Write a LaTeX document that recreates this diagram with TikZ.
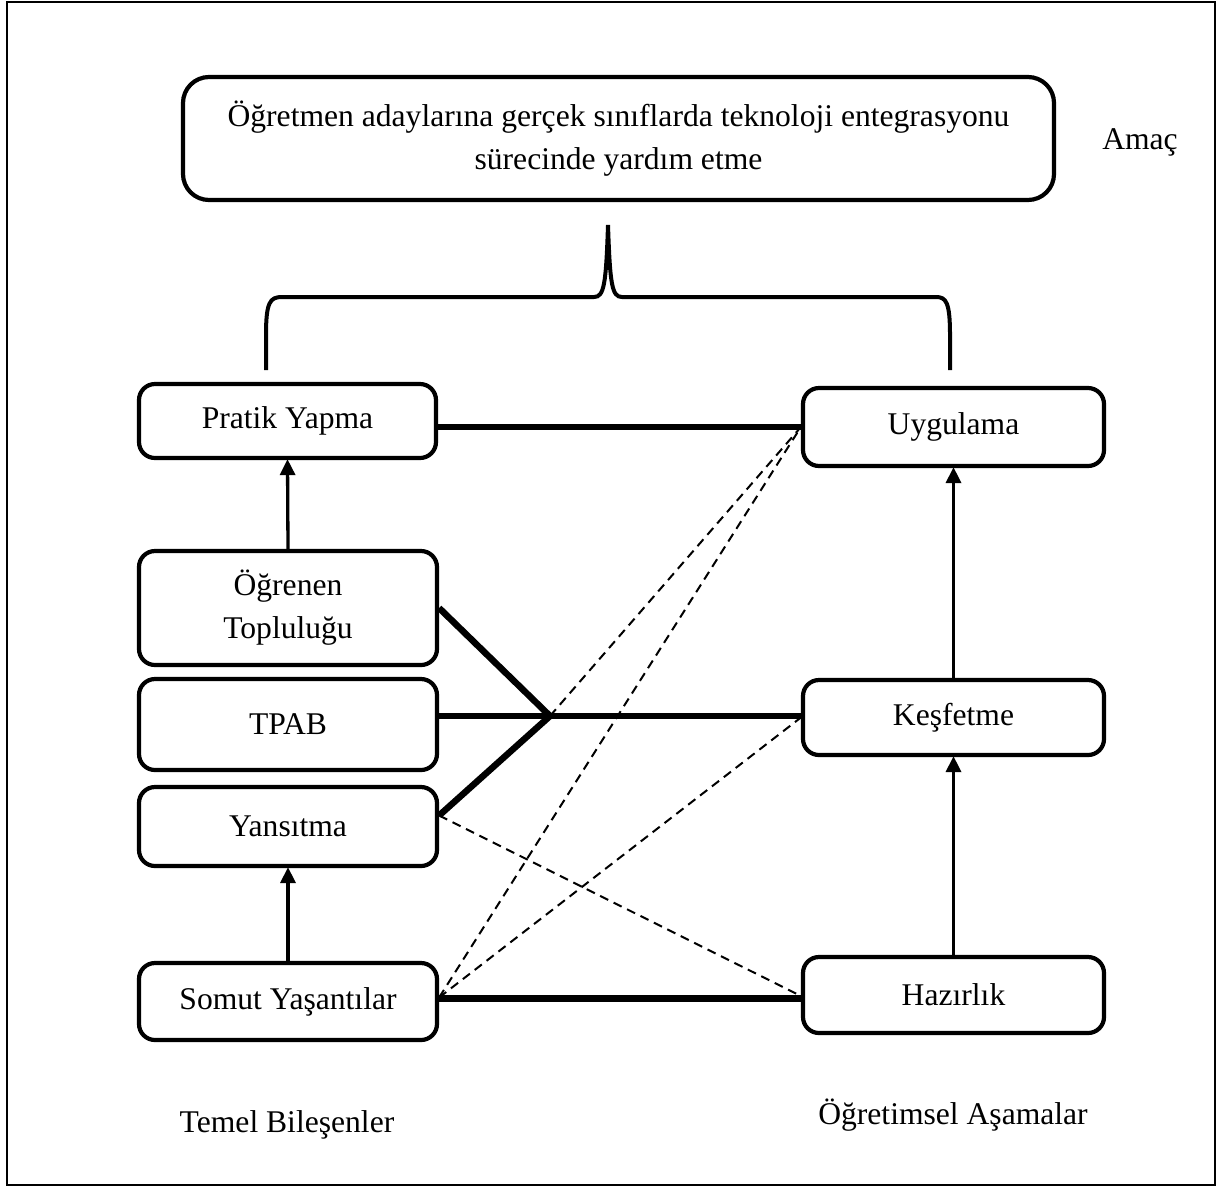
\documentclass[tikz,border=0pt]{standalone}
\usepackage{fontspec}
\setmainfont{Liberation Serif}
\usetikzlibrary{arrows.meta}
\begin{document}
\begin{tikzpicture}[x=1pt,y=-1pt,
  every node/.style={font=\fontsize{31.6}{43}\selectfont},
  box/.style={draw, line width=4.2pt, rounded corners=16pt, align=center, inner sep=0pt},
  thickline/.style={line width=6.5pt},
  dashline/.style={line width=2pt, dash pattern=on 9pt off 6pt},
  arr/.style={line width=3.3pt, -{Triangle[length=16pt,width=15pt]}, shorten >=-1pt}]
\useasboundingbox (0,0) rectangle (1217,1187);
\draw[line width=2pt] (7,2) rectangle (1215,1185);
% nodes
\node[box, rounded corners=26pt, minimum width=871pt, minimum height=123pt] (goal) at (618.5,138.5)
  {Öğretmen adaylarına gerçek sınıflarda teknoloji entegrasyonu\\sürecinde yardım etme};
\node (amac) at (1140,142) {Amaç};
\node[box, minimum width=297pt, minimum height=74pt] (pratik) at (287.5,421) {Pratik Yapma};
\node[box, minimum width=301pt, minimum height=78pt] (uyg) at (953.5,427) {Uygulama};
\node[box, minimum width=298pt, minimum height=114pt] (ogr) at (288,608) {Öğrenen\\Topluluğu};
\node[box, minimum width=298pt, minimum height=91pt, text height=40pt, text depth=20pt] (tpab) at (288,724.5) {TPAB};
\node[box, minimum width=298pt, minimum height=79pt] (yans) at (288,826.5) {Yansıtma};
\node[box, minimum width=298pt, minimum height=77pt] (somut) at (288,1001.5) {Somut Yaşantılar};
\node[box, minimum width=301pt, minimum height=75pt] (kesf) at (953.5,717.5) {Keşfetme};
\node[box, minimum width=301pt, minimum height=76pt] (haz) at (953.5,995) {Hazırlık};
\node (temel) at (287,1125) {Temel Bileşenler};
\node (asama) at (953,1115) {Öğretimsel Aşamalar};
\coordinate (j) at (550,716);
% brace
\draw[line width=4pt] (266,370) -- (266,335) .. controls (266,302) and (270,297) .. (282,297)
  -- (594,297) .. controls (604,297) and (606,285) .. (608,225)
  .. controls (610,285) and (612,297) .. (622,297)
  -- (936,297) .. controls (946,297) and (950,302) .. (950,335) -- (950,370);
% thick connectors
\draw[thickline] (uyg.west -| pratik.east) -- (uyg.west);
\draw[thickline] (ogr.east) -- (j);
\draw[thickline] (tpab.east |- j) -- (j) -- (kesf.west |- j);
\draw[thickline] ([yshift=11pt]yans.east) -- (j);
\draw[thickline] ([yshift=3pt]somut.east) -- ([yshift=3pt]somut.east -| haz.west);
% dashed connectors
\draw[dashline] ([yshift=4pt]somut.east) -- (uyg.west);
\draw[dashline] ([yshift=4pt]somut.east) -- (kesf.west);
\draw[dashline] (j) -- (uyg.west);
\draw[dashline] ([yshift=11pt]yans.east) -- ([yshift=-1pt]haz.west);
% arrows
\draw[arr] (ogr.north) -- (pratik.south);
\draw[arr] (somut.north) -- (yans.south);
\draw[arr] (haz.north) -- (kesf.south);
\draw[arr] (kesf.north) -- (uyg.south);
\end{tikzpicture}
\end{document}
